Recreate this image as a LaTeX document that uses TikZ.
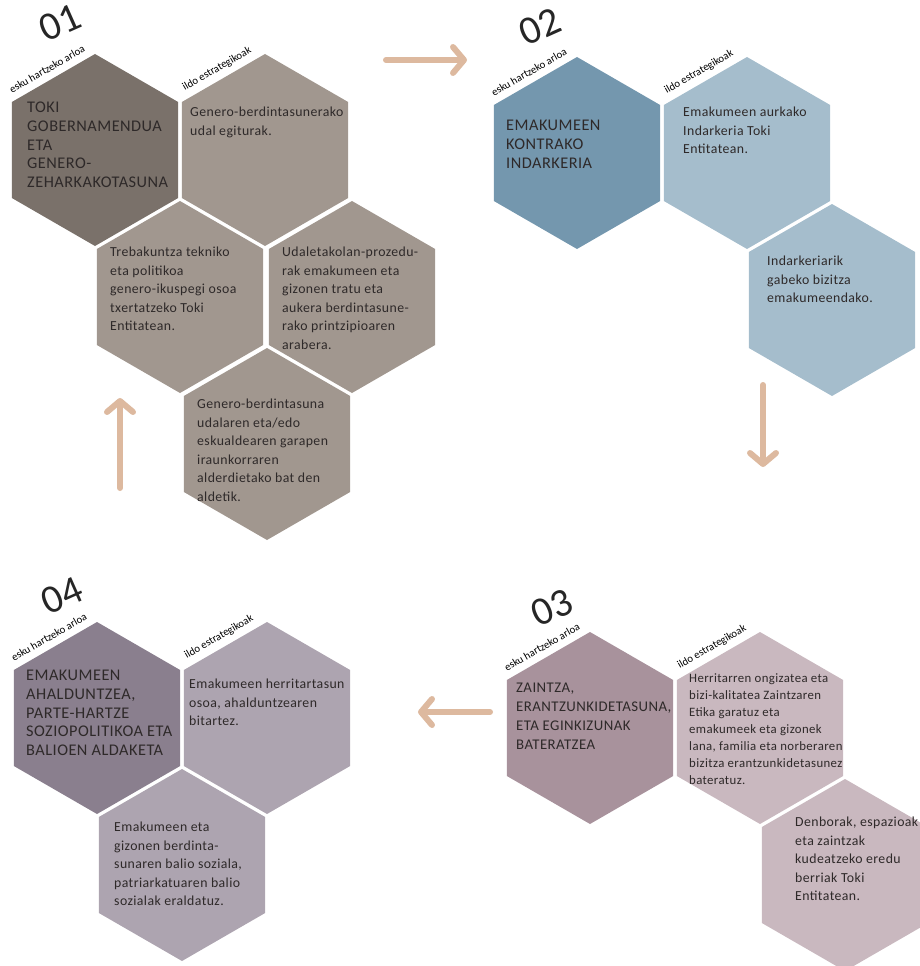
\documentclass[tikz,border=0pt]{standalone}
\usepackage{fontspec}
\usepackage{graphicx}
\setmainfont{Carlito}
\newfontfamily\bodyf[LetterSpace=3]{Carlito}
\usetikzlibrary{shapes.geometric,arrows.meta}
\definecolor{gAm}{HTML}{7A716A}
\definecolor{gAo}{HTML}{A1978F}
\definecolor{gBm}{HTML}{7497AE}
\definecolor{gBo}{HTML}{A5BDCC}
\definecolor{gCm}{HTML}{A8929C}
\definecolor{gCo}{HTML}{C9B8BF}
\definecolor{gDm}{HTML}{8A7F8E}
\definecolor{gDo}{HTML}{ADA4B0}
\definecolor{arrowc}{HTML}{DDB99F}
\definecolor{txt}{HTML}{2E2929}
\newcommand{\numtxt}[1]{\rotatebox{24}{#1}}
\newcommand{\lbltxt}[1]{\rotatebox{30}{#1}}
\begin{document}
\begin{tikzpicture}[x=1pt,y=-1pt,
  hexa/.style={regular polygon, regular polygon sides=6, shape border rotate=30,
    minimum size=192pt, inner sep=0pt, outer sep=0pt, draw=none, fill=#1},
  ttl/.style={anchor=north west, inner sep=0pt, align=left, text=txt,
    font=\bodyf\fontsize{16.3}{18.7}\selectfont},
  ttlsm/.style={anchor=north west, inner sep=0pt, align=left, text=txt,
    font=\bodyf\fontsize{14.8}{19}\selectfont},
  body/.style={anchor=north west, inner sep=0pt, align=left, text=txt,
    font=\bodyf\fontsize{13.8}{18.5}\selectfont},
  bodys/.style={anchor=north west, inner sep=0pt, align=left, text=txt,
    font=\bodyf\fontsize{12.8}{17}\selectfont},
  num/.style={font=\fontsize{40}{40}\selectfont, inner sep=0pt, text=black!85},
  lbl/.style={font=\fontsize{10.8}{11}\selectfont, inner sep=0pt, text=black},
  arr/.style={draw=arrowc, line width=6pt, line cap=round,
    -{Straight Barb[round,length=11pt,width=26pt]}}
]
\useasboundingbox (0,0) rectangle (919,966);

% ---------- group 01 ----------
\node[hexa=gAm] (a1) at (95,150) {};
\node[hexa=gAo] (a2) at (265,150) {};
\node[hexa=gAo] (a3) at (180,297) {};
\node[hexa=gAo] (a4) at (352,297) {};
\node[hexa=gAo] (a5) at (267,444) {};
\node[num] (n1) at (60,23) {\numtxt{01}};
\node[lbl] (l1a) at (47,69) {\lbltxt{esku hartzeko arloa}};
\node[lbl] (l1b) at (217,69) {\lbltxt{ildo estrategikoak}};
\node[ttl] (t1a) at (27,102) {TOKI\\GOBERNAMENDUA\\ETA\\GENERO-\\ZEHARKAKOTASUNA};
\node[body] (t1b) at (190,107) {Genero-berdintasunerako\\udal egiturak.};
\node[body] (t1c) at (110,247) {Trebakuntza tekniko\\eta politikoa\\genero-ikuspegi osoa\\txertatzeko Toki\\Entitatean.};
\node[body] (t1d) at (282,247) {Udaletakolan-prozedu-\\rak emakumeen eta\\gizonen tratu eta\\aukera berdintasune-\\rako printzipioaren\\arabera.};
\node[body] (t1e) at (197,399) {Genero-berdintasuna\\udalaren eta/edo\\eskualdearen garapen\\iraunkorraren\\alderdietako bat den\\aldetik.};

% ---------- group 02 ----------
\node[hexa=gBm] (b1) at (577,153) {};
\node[hexa=gBo] (b2) at (747,153) {};
\node[hexa=gBo] (b3) at (832,300) {};
\node[num] (n2) at (540,27) {\numtxt{02}};
\node[lbl] (l2a) at (529,72) {\lbltxt{esku hartzeko arloa}};
\node[lbl] (l2b) at (699,72) {\lbltxt{ildo estrategikoak}};
\node[ttl] (t2a) at (506,120) {EMAKUMEEN\\KONTRAKO\\INDARKERIA};
\node[body] (t2b) at (683,107) {Emakumeen aurkako\\Indarkeria Toki\\Entitatean.};
\node[body] (t2c) at (767,256) {Indarkeriarik\\gabeko bizitza\\emakumeendako.};

% ---------- group 03 ----------
\node[hexa=gCm] (c1) at (590,728) {};
\node[hexa=gCo] (c2) at (760,728) {};
\node[hexa=gCo] (c3) at (845,875) {};
\node[num] (n3) at (552,608) {\numtxt{03}};
\node[lbl] (l3a) at (542,647) {\lbltxt{esku hartzeko arloa}};
\node[lbl] (l3b) at (712,647) {\lbltxt{ildo estrategikoak}};
\node[ttlsm] (t3a) at (516,683) {ZAINTZA,\\ERANTZUNKIDETASUNA,\\ETA EGINKIZUNAK\\BATERATZEA};
\node[bodys] (t3b) at (689,673) {Herritarren ongizatea eta\\bizi-kalitatea Zaintzaren\\Etika garatuz eta\\emakumeek eta gizonek\\lana, familia eta norberaren\\bizitza erantzunkidetasunez\\bateratuz.};
\node[body] (t3c) at (795,817) {Denborak, espazioak\\eta zaintzak\\kudeatzeko eredu\\berriak Toki\\Entitatean.};

% ---------- group 04 ----------
\node[hexa=gDm] (d1) at (97,718) {};
\node[hexa=gDo] (d2) at (267,718) {};
\node[hexa=gDo] (d3) at (182,865) {};
\node[num] (n4) at (62,596) {\numtxt{04}};
\node[lbl] (l4a) at (49,637) {\lbltxt{esku hartzeko arloa}};
\node[lbl] (l4b) at (219,637) {\lbltxt{ildo estrategikoak}};
\node[ttl] (t4a) at (26,670) {EMAKUMEEN\\AHALDUNTZEA,\\PARTE-HARTZE\\SOZIOPOLITIKOA ETA\\BALIOEN ALDAKETA};
\node[body] (t4b) at (189,679) {Emakumeen herritartasun\\osoa, ahalduntzearen\\bitartez.};
\node[body] (t4c) at (114,822) {Emakumeen eta\\gizonen berdinta-\\sunaren balio soziala,\\patriarkatuaren balio\\sozialak eraldatuz.};

% ---------- arrows ----------
\coordinate (r0) at (386,60);
\coordinate (r1) at (467,60);
\coordinate (dn0) at (763,385);
\coordinate (dn1) at (763,467);
\coordinate (lf0) at (490,712);
\coordinate (lf1) at (418,712);
\coordinate (up0) at (120,488);
\coordinate (up1) at (120,398);
\draw[arr] (r0) -- (r1);
\draw[arr] (dn0) -- (dn1);
\draw[arr] (lf0) -- (lf1);
\draw[arr] (up0) -- (up1);
\end{tikzpicture}
\end{document}
